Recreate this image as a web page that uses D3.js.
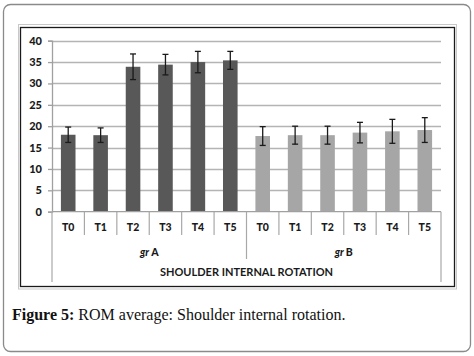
<!DOCTYPE html>
<html><head><meta charset="utf-8">
<script src="https://cdn.jsdelivr.net/npm/d3@7/dist/d3.min.js"></script>
<style>body{margin:0;background:#fff}svg{display:block}</style>
</head><body>
<svg id="c" width="474" height="356"></svg>
<script>
const timepoints = ["T0","T1","T2","T3","T4","T5"];
const groups = ["gr A","gr B"];
const meansA = [18.0, 17.9, 33.9, 34.4, 35.0, 35.4];
const errA   = [1.8, 1.7, 3.0, 2.4, 2.5, 2.1];
const meansB = [17.7, 17.9, 17.9, 18.5, 18.8, 19.1];
const errB   = [2.2, 2.1, 2.1, 2.4, 2.8, 2.9];
const yTicks = [0,5,10,15,20,25,30,35,40];
const axisTitle = "SHOULDER INTERNAL ROTATION";
const captionBold = "Figure 5:";
const captionRest = " ROM average: Shoulder internal rotation.";

const rows = [];
groups.forEach((g,gi)=>timepoints.forEach((t,ti)=>{
  rows.push({key:g+"|"+t, group:g, gi, t,
    v: gi===0?meansA[ti]:meansB[ti], e: gi===0?errA[ti]:errB[ti]});
}));

const svg = d3.select("#c");
// outer rounded frame
svg.append("rect").attr("x",3.5).attr("y",4.5).attr("width",467).attr("height",347)
  .attr("rx",7).attr("fill","#fff").attr("stroke","#8a8a8a").attr("stroke-width",1.3);
// chart frame
svg.append("rect").attr("x",18.5).attr("y",24.5).attr("width",438).attr("height",264.5)
  .attr("fill","none").attr("stroke","#c8c8c8").attr("stroke-width",1);
svg.append("rect").attr("x",20.5).attr("y",27.5).attr("width",434).attr("height",259)
  .attr("fill","#fff").attr("stroke","#1a1a1a").attr("stroke-width",1.3);

const x0 = 52, x1 = 441, yTop = 40.7, yBot = 211.7;
const x = d3.scaleBand().domain(rows.map(d=>d.key)).range([x0,x1]).paddingInner(0.55).paddingOuter(0.275);
const y = d3.scaleLinear().domain([0,40]).range([yBot,yTop]);
const cw = (x1-x0)/rows.length;

// gridlines
svg.append("g").selectAll("line").data(yTicks.filter(d=>d>0)).join("line")
  .attr("x1",x0).attr("x2",x1).attr("y1",d=>Math.round(y(d))+0.5).attr("y2",d=>Math.round(y(d))+0.5)
  .attr("stroke","#b4b4b4").attr("stroke-width",1.3);

// y axis
const ya = svg.append("g").attr("transform",`translate(${x0},0)`)
  .call(d3.axisLeft(y).tickValues(yTicks).tickSize(4).tickPadding(6));
ya.select(".domain").attr("stroke","#a0a0a0").attr("stroke-width",1.3);
ya.selectAll(".tick line").attr("stroke","#a0a0a0").attr("stroke-width",1.3);
ya.selectAll("text").attr("font-family","Lato, 'Open Sans', sans-serif").attr("font-weight","900")
  .attr("font-size",11).attr("fill","#1a1a1a");

// bars
svg.append("g").selectAll("rect").data(rows).join("rect")
  .attr("x",d=>x(d.key)).attr("width",x.bandwidth())
  .attr("y",d=>y(d.v)).attr("height",d=>y(0)-y(d.v))
  .attr("fill",d=>d.gi===0?"#585858":"#a6a6a6");

// error bars
const eb = svg.append("g").attr("stroke","#1a1a1a").attr("stroke-width",1.3);
rows.forEach(d=>{
  const cx = x(d.key)+x.bandwidth()/2;
  eb.append("line").attr("x1",cx).attr("x2",cx).attr("y1",y(d.v+d.e)).attr("y2",y(d.v-d.e));
  [d.v+d.e, d.v-d.e].forEach(v=>eb.append("line").attr("x1",cx-3).attr("x2",cx+3).attr("y1",y(v)).attr("y2",y(v)));
});

// zero line
svg.append("line").attr("x1",x0).attr("x2",x1).attr("y1",yBot).attr("y2",yBot)
  .attr("stroke","#a0a0a0").attr("stroke-width",1.3);

// category dividers
const dv = svg.append("g").attr("stroke","#a8a8a8").attr("stroke-width",1.2);
for(let i=0;i<=rows.length;i++){
  const xx = x0 + i*cw;
  let yEnd = 235;
  if(i===0||i===rows.length) yEnd = 282;
  else if(i===timepoints.length) yEnd = 259;
  dv.append("line").attr("x1",xx).attr("x2",xx).attr("y1",yBot).attr("y2",yEnd);
}

const lblFont = "Lato, 'Open Sans', sans-serif";
svg.append("g").selectAll("text").data(rows).join("text")
  .attr("x",d=>x(d.key)+x.bandwidth()/2).attr("y",231)
  .attr("text-anchor","middle").attr("font-family",lblFont).attr("font-weight","900")
  .attr("font-size",10.5).attr("fill","#1a1a1a").text(d=>d.t);

svg.append("g").selectAll("text").data(groups).join("text")
  .attr("x",(d,i)=>x0 + (i*timepoints.length + timepoints.length/2)*cw).attr("y",256)
  .attr("text-anchor","middle").attr("font-family",lblFont).attr("font-weight","900")
  .attr("font-size",10.5).attr("fill","#1a1a1a")
  .each(function(d){
    const parts = d.split(" ");
    d3.select(this).append("tspan").attr("font-style","italic").text(parts[0]+" ");
    d3.select(this).append("tspan").text(parts[1]);
  });

svg.append("text").attr("x",(x0+x1)/2).attr("y",276).attr("text-anchor","middle")
  .attr("font-family",lblFont).attr("font-weight","bold").attr("font-size",11)
  .attr("fill","#1a1a1a").text(axisTitle);

// caption
const cap = svg.append("text").attr("x",12).attr("y",320)
  .attr("font-family","'Liberation Serif', 'DejaVu Serif', serif").attr("font-size",16).attr("fill","#111");
cap.append("tspan").attr("font-weight","bold").text(captionBold);
cap.append("tspan").text(captionRest);
</script>
</body></html>
